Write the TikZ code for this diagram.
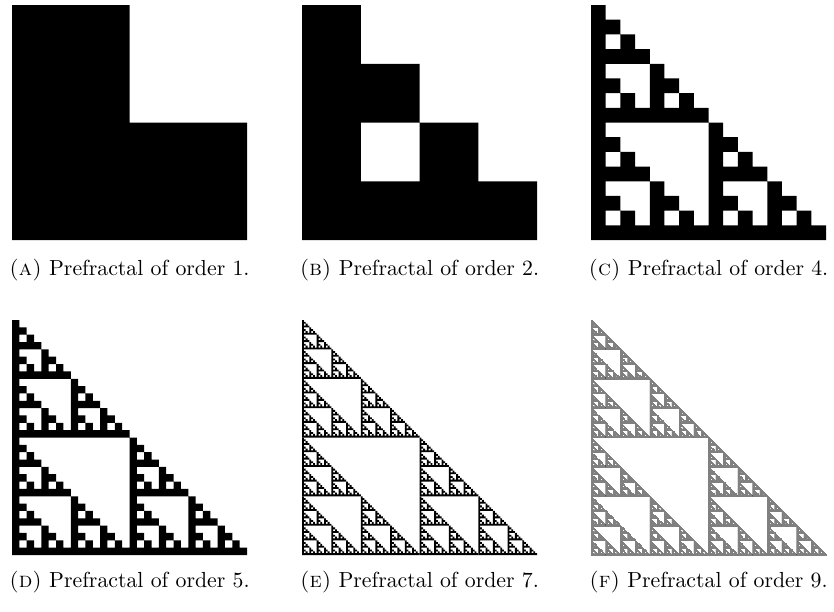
\documentclass[tikz,border=0pt]{standalone}
\usepackage{fontspec}
\makeatletter
% leaf-level: add rectangles of the prefractal to the current path
\def\sierp#1#2#3#4{%
  \ifnum#1=0
    \pgfpathrectangle{\pgfqpoint{#2}{#3}}{\pgfqpoint{#4}{#4}}%
  \else
    \expandafter\sierp@a\expandafter{\the\numexpr#1-1\expandafter}\expandafter{\the\dimexpr#4/2\relax}{#2}{#3}%
  \fi}
\def\sierp@a#1#2#3#4{%
  \sierp{#1}{#3}{#4}{#2}%
  \sierp{#1}{\the\dimexpr#3+#2\relax}{#4}{#2}%
  \sierp{#1}{#3}{\the\dimexpr#4+#2\relax}{#2}}
% group-level: fill paths of at most 243 squares each
\def\sierpuse{\pgfusepath{fill}}
\def\sierpgroup#1#2#3#4{%
  \ifnum#1>5
    \expandafter\sierpgroup@a\expandafter{\the\numexpr#1-1\expandafter}\expandafter{\the\dimexpr#4/2\relax}{#2}{#3}%
  \else
    \sierp{#1}{#2}{#3}{#4}\sierpuse
  \fi}
\def\sierpgroup@a#1#2#3#4{%
  \sierpgroup{#1}{#3}{#4}{#2}%
  \sierpgroup{#1}{\the\dimexpr#3+#2\relax}{#4}{#2}%
  \sierpgroup{#1}{#3}{\the\dimexpr#4+#2\relax}{#2}}
\makeatother
\colorlet{finegrey}{black!50}
\tikzset{
  caption/.style={anchor=base, inner sep=0pt, font=\fontsize{10.9}{13}\selectfont}
}
\begin{document}
\begin{tikzpicture}[x=0.5pt,y=-0.5pt]
  \useasboundingbox (0,0) rectangle (834,611);
  \pgfsetfillcolor{black}
  % row 1
  \sierpgroup{1}{6pt}{-120pt}{117.5pt}
  \sierpgroup{2}{151pt}{-120pt}{117.5pt}
  \sierpgroup{4}{295.5pt}{-120pt}{117.5pt}
  % row 2
  \sierpgroup{5}{6pt}{-277.5pt}{117.5pt}
  \sierpgroup{7}{151pt}{-277.5pt}{117.5pt}
  \begin{scope}
    \pgfsetlinewidth{0.05pt}
    \pgfsetstrokecolor{finegrey}
    \pgfsetfillcolor{black}
    \def\sierpuse{\pgfusepath{stroke,fill}}
    \sierpgroup{9}{295.5pt}{-277.5pt}{117.5pt}
  \end{scope}
  % captions
  \node[caption] (capA) at (129.5,275) {\textsc{(a)} Prefractal of order 1.};
  \node[caption] (capB) at (419.5,275) {\textsc{(b)} Prefractal of order 2.};
  \node[caption] (capC) at (708.5,275) {\textsc{(c)} Prefractal of order 4.};
  \node[caption] (capD) at (129.5,587) {\textsc{(d)} Prefractal of order 5.};
  \node[caption] (capE) at (419.5,587) {\textsc{(e)} Prefractal of order 7.};
  \node[caption] (capF) at (708.5,587) {\textsc{(f)} Prefractal of order 9.};
\end{tikzpicture}
\end{document}
